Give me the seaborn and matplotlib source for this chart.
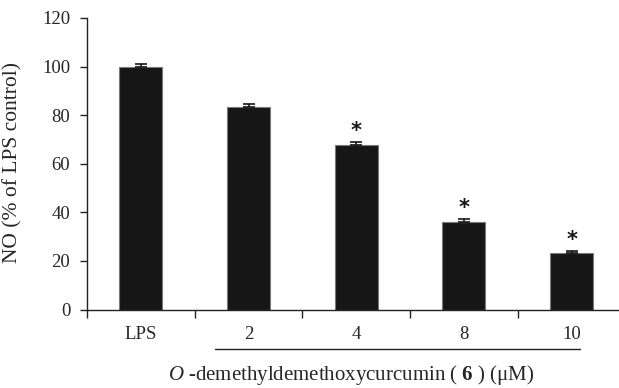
import matplotlib
matplotlib.use("Agg")
import matplotlib.pyplot as plt
import matplotlib.transforms as mtransforms
import seaborn as sns
import pandas as pd

categories = ["LPS", "2", "4", "8", "10"]
values = [100.0, 83.3, 67.7, 36.0, 23.1]
errors = [1.0, 1.2, 1.1, 1.1, 1.1]
significant = [False, False, True, True, True]
yticks = [0, 20, 40, 60, 80, 100, 120]

sns.set_style("ticks")
plt.rcParams["font.family"] = ["Liberation Serif", "DejaVu Serif"]
plt.rcParams["mathtext.fontset"] = "custom"
plt.rcParams["mathtext.rm"] = "Liberation Serif"
plt.rcParams["mathtext.it"] = "Liberation Serif:italic"
plt.rcParams["mathtext.bf"] = "Liberation Serif:bold"

df = pd.DataFrame({"group": categories, "NO": values})

fig = plt.figure(figsize=(6.19, 3.88), dpi=100)
ax = fig.add_axes([87 / 619, 1 - 309.5 / 388, 538.5 / 619, 291.5 / 388])

sns.barplot(data=df, x="group", y="NO", order=categories, color="#161616",
            saturation=1, width=0.4, errorbar=None, edgecolor="#7a7a7a",
            linewidth=0.8, ax=ax)

xpos = list(range(len(categories)))
ax.errorbar(xpos, values, yerr=[[0] * len(values), errors], fmt="none",
            ecolor="#161616", elinewidth=1.2, capsize=4, capthick=1.2)

for x, v, e, s in zip(xpos, values, errors, significant):
    if s:
        ax.text(x, v + e + 4.5, "*", ha="center", va="center", fontsize=15,
                color="#161616", family="DejaVu Sans", fontweight="bold")

ax.set_xlim(-0.5, len(categories) - 0.5)
ax.set_ylim(0, 120)
ax.set_yticks(yticks)
ax.set_yticklabels([str(t) for t in yticks], fontsize=13.5)
ax.set_xticks(xpos)
ax.set_xticklabels(categories, fontsize=13.5)
ax.set_xticks([i - 0.5 for i in range(len(categories))], minor=True)
ax.tick_params(axis="x", which="major", length=0, pad=12)
ax.tick_params(axis="x", which="minor", length=6, width=1, direction="out",
               color="#222222")
ax.tick_params(axis="y", length=5, width=1, direction="out", color="#222222",
               pad=7)

for side in ["top", "right"]:
    ax.spines[side].set_visible(False)
for side in ["left", "bottom"]:
    ax.spines[side].set_color("#222222")
    ax.spines[side].set_linewidth(1.0)

ax.set_ylabel("NO (% of LPS control)", fontsize=15.5)
ax.yaxis.set_label_coords(-(87 - 22) / 538.5, 0.505)

ax.set_xlabel(r"$\mathit{O}$ -demethyldemethoxycurcumin ( $\mathbf{6}$ ) (μM)",
              fontsize=15, va="center")
ax.xaxis.set_label_coords((351.5 - 87) / 538.5, -(375 - 309.5) / 291.5)

trans = mtransforms.blended_transform_factory(ax.transData, ax.transAxes)
ax.plot([0.69, 4.08], [-(349 - 309.5) / 291.5] * 2, color="#222222",
        linewidth=1.0, transform=trans, clip_on=False)

fig.savefig("out.png", dpi=100)
